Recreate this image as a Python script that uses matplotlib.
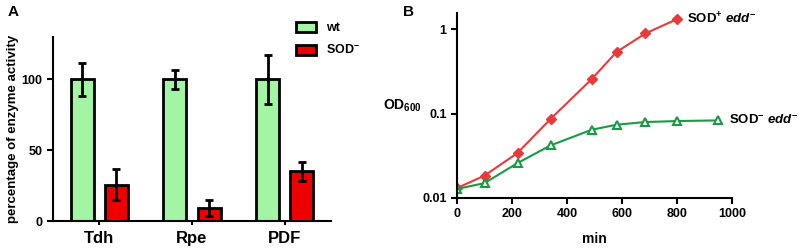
import numpy as np
import matplotlib.pyplot as plt

plt.rcParams['font.family'] = ['Liberation Sans', 'DejaVu Sans']
plt.rcParams['font.weight'] = 'bold'
plt.rcParams['axes.labelweight'] = 'bold'
plt.rcParams['mathtext.fontset'] = 'custom'
plt.rcParams['mathtext.rm'] = 'Liberation Sans:bold'
plt.rcParams['mathtext.bf'] = 'Liberation Sans:bold'
plt.rcParams['mathtext.it'] = 'Liberation Sans:italic:bold'

# panel A data
enzymes = ['Tdh', 'Rpe', 'PDF']
wt_activity = [100, 100, 100]
wt_err = [11.5, 7, 17]
sod_activity = [25.5, 9, 35]
sod_err = [11, 5.5, 7]

# panel B data
t_sodplus = [0, 100, 220, 340, 490, 580, 685, 800]
od_sodplus = [0.0131, 0.0184, 0.0341, 0.0861, 0.256, 0.535, 0.887, 1.31]
t_sodminus = [0, 100, 220, 340, 490, 580, 685, 800, 950]
od_sodminus = [0.0128, 0.0150, 0.0259, 0.0419, 0.0643, 0.0737, 0.0793, 0.0815, 0.0829]

fig = plt.figure(figsize=(8, 2.5), dpi=100)
W, H = 800, 250
axA = fig.add_axes([53 / W, 1 - 221 / H, (331 - 53) / W, (221 - 37) / H])
axB = fig.add_axes([457 / W, 1 - 198 / H, (732 - 457) / W, (198 - 13) / H])

green = '#a3f5a3'
red = '#ee0000'
x = np.arange(len(enzymes))
bw = 0.25
axA.bar(x - 0.185, wt_activity, bw, color=green, edgecolor='black', linewidth=2,
        yerr=wt_err, capsize=3, error_kw=dict(elinewidth=2, capthick=2), label='wt')
axA.bar(x + 0.185, sod_activity, bw, color=red, edgecolor='black', linewidth=2,
        yerr=sod_err, capsize=3, error_kw=dict(elinewidth=2, capthick=2), label='SOD$^{-}$')
axA.set_xlim(-0.5, 2.5)
axA.set_ylim(0, 130)
axA.set_yticks([0, 50, 100])
axA.set_xticks(x)
axA.set_xticklabels(enzymes, fontsize=12)
axA.tick_params(axis='y', labelsize=9, width=1.5, length=4)
axA.tick_params(axis='x', width=1.5, length=3, pad=4)
axA.set_ylabel('percentage of enzyme activity', fontsize=9.5, labelpad=2)
axA.legend(loc='upper left', bbox_to_anchor=(0.835, 1.145), frameon=False, fontsize=9,
           handlelength=1.6, handleheight=0.9, handletextpad=0.8, labelspacing=0.8)

axB.plot(t_sodplus, od_sodplus, color='#e83a3a', marker='D', markersize=5, linewidth=1.5)
axB.plot(t_sodminus, od_sodminus, color='#1a9a45', marker='^', markersize=6,
         markerfacecolor='white', markeredgewidth=1.5, linewidth=1.5)
axB.set_yscale('log')
axB.set_ylim(0.01, 1.55)
axB.set_xlim(0, 1000)
axB.set_yticks([0.01, 0.1, 1])
axB.set_yticklabels(['0.01', '0.1', '1'])
axB.minorticks_off()
axB.set_xticks([0, 200, 400, 600, 800, 1000])
axB.tick_params(labelsize=9, width=1.5, length=4)
axB.set_xlabel('min', fontsize=10, labelpad=8)
axB.set_ylabel('OD$_{600}$', fontsize=10, rotation=0, labelpad=14, va='center')
axB.text(835, 1.31, 'SOD$^{+}$ $\\mathit{edd}^{-}$', fontsize=9.5, va='center')
axB.text(990, 0.0829, 'SOD$^{-}$ $\\mathit{edd}^{-}$', fontsize=9.5, va='center', clip_on=False)

for ax in (axA, axB):
    ax.spines['top'].set_visible(False)
    ax.spines['right'].set_visible(False)
    ax.spines['left'].set_linewidth(1.5)
    ax.spines['bottom'].set_linewidth(1.5)

fig.text(8 / W, 1 - 12 / H, 'A', fontsize=11, va='center')
fig.text(403 / W, 1 - 12 / H, 'B', fontsize=11, va='center')

fig.savefig('out.png', dpi=100)
